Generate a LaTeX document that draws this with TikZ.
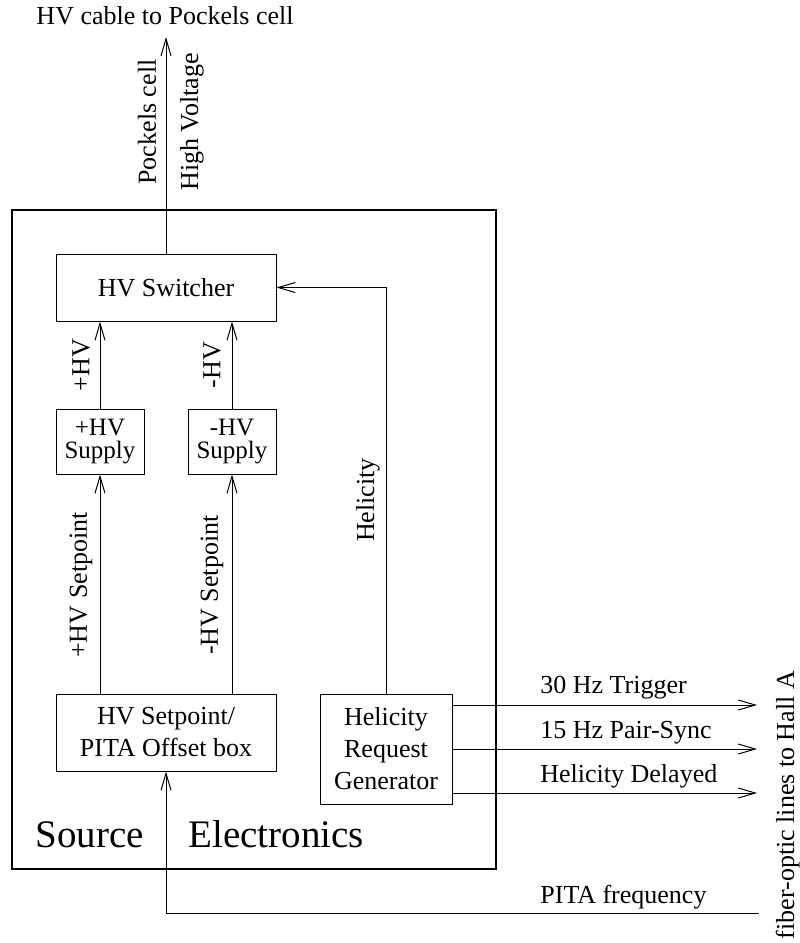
\documentclass[tikz,border=0pt]{standalone}
\usepackage{fontspec}
\setmainfont{Liberation Serif}
\usetikzlibrary{arrows.meta,positioning}

\begin{document}
\begin{tikzpicture}[
  x=0.5pt, y=-0.5pt,
  box/.style={draw, line width=0.5pt, inner sep=0pt, align=center, font=\fontsize{13}{16}\selectfont},
  lbl/.style={inner sep=0pt, font=\fontsize{13}{16}\selectfont},
  vlbl/.style={lbl, rotate=90},
  big/.style={inner sep=0pt, font=\fontsize{19.5}{22}\selectfont},
  arr/.style={-{Straight Barb[length=8.5pt,width=5pt]}, line width=0.5pt},
  wire/.style={line width=0.5pt}
]
\useasboundingbox (0,0) rectangle (799,943);

% source electronics crate
\node[draw, line width=1pt, inner sep=0pt, minimum width=242pt, minimum height=329.5pt] (src) at (254,539.5) {};
\node[big, anchor=base west] (srcA) at (35,847) {Source};
\node[big, anchor=base west] (srcB) at (188,847) {Electronics};

% boxes
\node[box, minimum width=110pt, minimum height=33.5pt] (sw) at (166,287.5) {HV Switcher};
\node[box, minimum width=44pt, minimum height=32.5pt, font=\fontsize{12.5}{11.5}\selectfont] (psup) at (100,441.5) {+HV\\Supply};
\node[box, minimum width=44pt, minimum height=32.5pt, font=\fontsize{12.5}{11.5}\selectfont] (msup) at (232,441.5) {-HV\\Supply};
\node[box, minimum width=110pt, minimum height=38.5pt] (setp) at (166,732.5) {HV Setpoint/\\PITA Offset box};
\node[box, minimum width=66pt, minimum height=55pt] (hrg) at (386,749) {Helicity\\Request\\Generator};

% free ends
\node[lbl, anchor=base] (cable) at (165,24) {HV cable to Pockels cell};
\coordinate (cabletip) at (166,37);
\coordinate (fo1) at (757,705);
\coordinate (fo2) at (757,749);
\coordinate (fo3) at (757,793);
\coordinate (pita) at (759,913);

% connectors
\draw[arr] (sw.north) -- (cabletip);
\draw[arr] (psup.north) -- (psup.north |- sw.south);
\draw[arr] (msup.north) -- (msup.north |- sw.south);
\draw[arr] (psup.south |- setp.north) -- (psup.south);
\draw[arr] (msup.south |- setp.north) -- (msup.south);
\draw[arr] (hrg.north) |- (sw.east);
\draw[arr] (hrg.east |- fo1) -- (fo1);
\draw[arr] (hrg.east) -- (fo2);
\draw[arr] (hrg.east |- fo3) -- (fo3);
\draw[arr] (pita) -| (setp.south);

% labels
\node[vlbl] (pcell) at (147,122) {Pockels cell};
\node[vlbl] (hvolt) at (192,122) {High Voltage};
\node[vlbl] (phv) at (81,365) {+HV};
\node[vlbl] (mhv) at (212,365) {-HV};
\node[vlbl] (phvset) at (81,585) {+HV Setpoint};
\node[vlbl] (mhvset) at (212,585) {-HV Setpoint};
\node[vlbl] (helic) at (368,500) {Helicity};
\node[lbl, anchor=base west] (trig) at (540,693) {30 Hz Trigger};
\node[lbl, anchor=base west] (psync) at (540,738) {15 Hz Pair-Sync};
\node[lbl, anchor=base west] (hdel) at (540,782) {Helicity Delayed};
\node[lbl, anchor=base west] (pfreq) at (540,903) {PITA frequency};
\node[vlbl, anchor=base] (fiber) at (794,805) {fiber-optic lines to Hall A};
\end{tikzpicture}
\end{document}
